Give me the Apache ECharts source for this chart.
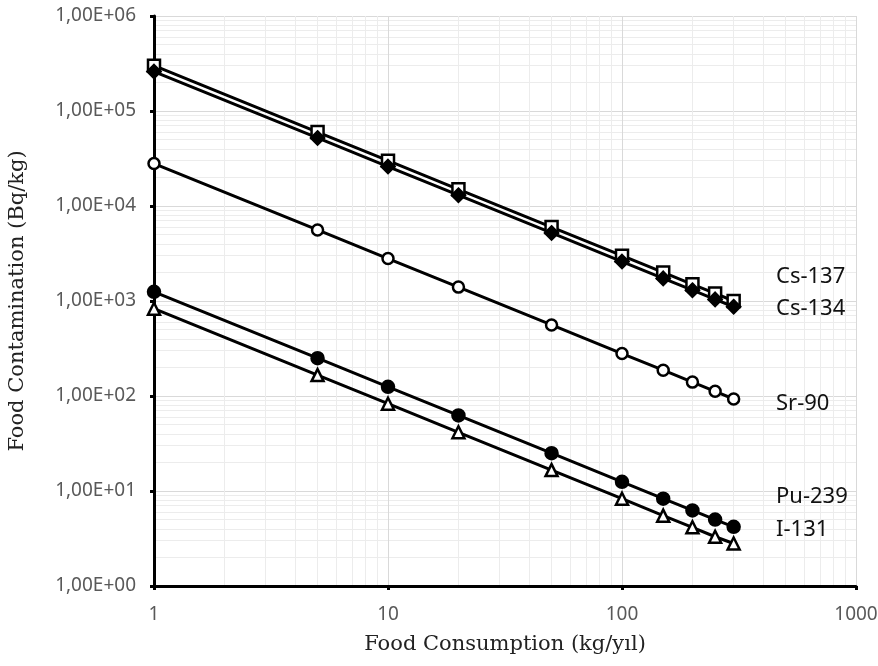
<!DOCTYPE html>
<html><head><meta charset="utf-8">
<script src="https://cdn.jsdelivr.net/npm/echarts@6/dist/echarts.min.js"></script>
<style>html,body{margin:0;padding:0;background:#fff}#c{width:878px;height:666px}</style>
</head><body><div id="c"></div>
<script>
const consumption = [1, 5, 10, 20, 50, 100, 150, 200, 250, 300];
const cs137 = [300000, 60000, 30000, 15000, 6000, 3000, 2000, 1500, 1200, 1000];
const cs134 = [260000, 52000, 26000, 13000, 5200, 2600, 1730, 1300, 1040, 870];
const sr90  = [28000, 5600, 2800, 1400, 560, 280, 187, 140, 112, 93];
const pu239 = [1250, 250, 125, 62.5, 25, 12.5, 8.3, 6.25, 5, 4.2];
const i131  = [830, 166, 83, 41.5, 16.6, 8.3, 5.5, 4.15, 3.3, 2.8];
const seriesNames = ['Cs-137', 'Cs-134', 'Sr-90', 'Pu-239', 'I-131'];

function pairs(v){ return consumption.map((x,i)=>[x, v[i]]); }
function fmtE(v){
  const e = Math.round(Math.log10(v));
  return '1,00E' + (e>=0?'+':'-') + String(Math.abs(e)).padStart(2,'0');
}
const chart = echarts.init(document.getElementById('c'));
const lineStyle = {color:'#000', width:3};
function mk(name, data, symbol, filled, size){
  return {name, type:'line', data:pairs(data), symbol, symbolSize:size,
    lineStyle, itemStyle:{color: filled?'#000':'#fff', borderColor:'#000', borderWidth:2.5},
    showAllSymbol:true, z: 3, animation:false};
}
const gridColor = '#d9d9d9';
chart.setOption({
  animation:false,
  grid:{left:154, right:22, top:16, bottom:80, containLabel:false, outerBoundsMode:'none'},
  xAxis:{type:'log', logBase:10, min:1, max:1000,
    name:'Food Consumption (kg/yıl)', nameLocation:'middle', nameGap:48,
    nameTextStyle:{fontFamily:'DejaVu Serif', fontSize:21, color:'#222'},
    axisLine:{lineStyle:{color:'#000', width:3}},
    axisTick:{show:true, length:4, inside:false, lineStyle:{color:'#000', width:3}},
    axisLabel:{formatter:v=>String(v), fontFamily:'Noto Sans', fontSize:19, color:'#595959', margin:19},
    splitLine:{show:true, lineStyle:{color:gridColor, width:1}},
    minorTick:{show:false, splitNumber:9},
    minorSplitLine:{show:true, lineStyle:{color:'#ececec', width:1}}
  },
  yAxis:{type:'log', logBase:10, min:1, max:1000000,
    name:'Food Contamination (Bq/kg)', nameLocation:'middle', nameGap:126,
    nameTextStyle:{fontFamily:'DejaVu Serif', fontSize:21, color:'#222'},
    axisLine:{show:true, lineStyle:{color:'#000', width:3}},
    axisTick:{show:true, length:4, lineStyle:{color:'#000', width:3}},
    axisLabel:{formatter:fmtE, fontFamily:'Noto Sans', fontSize:19, color:'#595959', margin:18},
    splitLine:{show:true, lineStyle:{color:gridColor, width:1}},
    minorTick:{show:false, splitNumber:9},
    minorSplitLine:{show:true, lineStyle:{color:'#ececec', width:1}}
  },
  series:[
    mk('Cs-137', cs137, 'rect', false, 12),
    mk('Cs-134', cs134, 'diamond', true, 13),
    mk('Sr-90', sr90, 'circle', false, 11),
    mk('Pu-239', pu239, 'circle', true, 12),
    mk('I-131', i131, 'triangle', false, 12)
  ],
  graphic:[
    {type:'text', x:776, y:277, z:100, style:{text:seriesNames[0], font:'22px "Noto Sans"', fill:'#111', verticalAlign:'middle'}},
    {type:'text', x:776, y:309, z:100, style:{text:seriesNames[1], font:'22px "Noto Sans"', fill:'#111', verticalAlign:'middle'}},
    {type:'text', x:776, y:404, z:100, style:{text:seriesNames[2], font:'22px "Noto Sans"', fill:'#111', verticalAlign:'middle'}},
    {type:'text', x:776, y:497, z:100, style:{text:seriesNames[3], font:'22px "Noto Sans"', fill:'#111', verticalAlign:'middle'}},
    {type:'text', x:776, y:530, z:100, style:{text:seriesNames[4], font:'22px "Noto Sans"', fill:'#111', verticalAlign:'middle'}}
  ]
});
</script></body></html>
